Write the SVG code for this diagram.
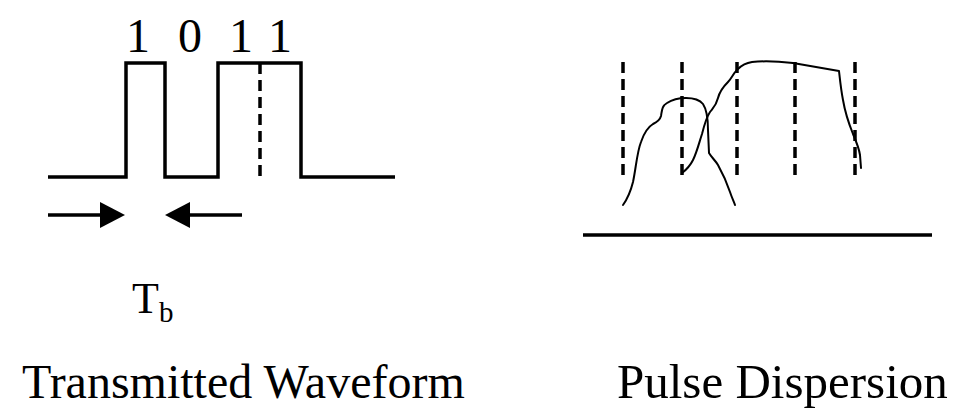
<svg xmlns="http://www.w3.org/2000/svg" width="956" height="411" viewBox="0 0 956 411">
<style>
.t{font-family:"Liberation Serif","Times New Roman",serif;fill:#000}
.thick{stroke:#000;stroke-width:3.5;fill:none}
.dash{stroke:#000;stroke-width:3.5;fill:none;stroke-dasharray:11 6}
.curve{stroke:#000;stroke-width:2;fill:none;stroke-linejoin:round;stroke-linecap:round}
</style>
<rect width="956" height="411" fill="#fff"/>
<g id="transmitted-waveform">
  <g id="bits" class="t" font-size="48" text-anchor="middle">
    <text x="138" y="52">1</text>
    <text x="190" y="52">0</text>
    <text x="241" y="52">1</text>
    <text x="280" y="52">1</text>
  </g>
  <path class="thick" d="M48 177 H126 V63 H165 V177 H218 V63 H301 V177 H395"/>
  <line class="dash" x1="260" y1="63" x2="260" y2="177" stroke-dasharray="13 7"/>
  <g id="tb-arrows">
    <line class="thick" x1="48" y1="215" x2="102" y2="215"/>
    <polygon points="100,202 125,215 100,228" fill="#000"/>
    <line class="thick" x1="188" y1="215" x2="242" y2="215"/>
    <polygon points="190,202 165,215 190,228" fill="#000"/>
  </g>
  <text class="t" x="132" y="313" font-size="44">T<tspan font-size="29" dy="9">b</tspan></text>
  <text class="t" x="22" y="398" font-size="48">Transmitted Waveform</text>
</g>
<g id="pulse-dispersion">
  <g id="bit-slots">
    <line class="dash" x1="623" y1="62" x2="623" y2="178"/>
    <line class="dash" x1="682" y1="62" x2="682" y2="178"/>
    <line class="dash" x1="737" y1="62" x2="737" y2="178"/>
    <line class="dash" x1="795" y1="62" x2="795" y2="178"/>
    <line class="dash" x1="855" y1="62" x2="855" y2="178"/>
  </g>
  <path class="curve" d="M623 205 C628 198 631 190 633 182 C636 168 637 152 641 142 C644 133 648 127 653 124 C657 122 660 120 661 116 C662 110 662 106 667 103 C673 99 679 98 686 98 C693 98 699 99 703 104 C707 110 708 118 708 130 L709 153 C712 158 715 160 718 165 C723 174 727 183 730 192 C732 198 734 202 735 205"/>
  <path class="curve" d="M682 173 C686 170 690 166 693 160 C697 152 699 143 702 134 C704 126 706 118 710 112 C713 108 716 106 718 98 C720 90 724 86 728 82 C732 78 734 72 738 69 C742 65 746 63 752 62 C762 61 775 61 793 63 L839 71 C840 80 841 90 843 100 C845 112 849 124 853 134 C856 141 859 148 860 155 L861 168"/>
  <line class="thick" x1="583" y1="235" x2="932" y2="235"/>
  <text class="t" x="617" y="398" font-size="49">Pulse Dispersion</text>
</g>
</svg>
